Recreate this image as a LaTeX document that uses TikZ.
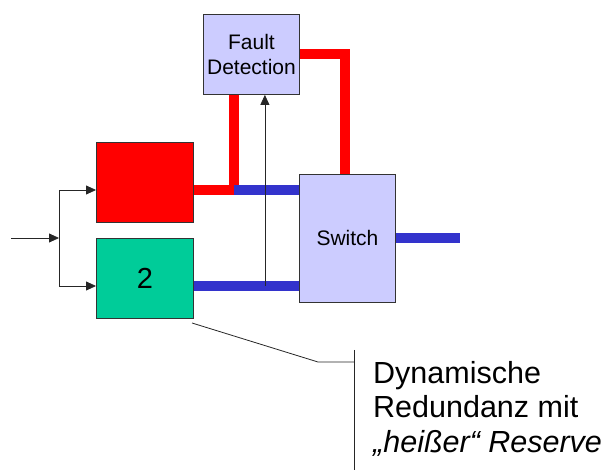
\documentclass[tikz,border=0pt]{standalone}
\usepackage{fontspec}
\setmainfont{Liberation Sans}
\usetikzlibrary{arrows.meta,calc}
\definecolor{lav}{HTML}{CCCCFF}
\definecolor{rd}{HTML}{FF0000}
\definecolor{gr}{HTML}{00CC99}
\definecolor{bl}{HTML}{3333CC}
\begin{document}
\begin{tikzpicture}[x=1pt,y=-1pt,
  box/.style={draw=black!80, line width=0.9pt, inner sep=0pt, anchor=north west, align=center},
  redw/.style={draw=rd, line width=10pt},
  bluew/.style={draw=bl, line width=10pt},
  thin/.style={draw=black!85, line width=0.8pt},
  arr/.style={thin, -{Triangle[length=10pt,width=9pt]}}]
\useasboundingbox (0,0) rectangle (616,470);
% nodes
\node[box, fill=lav, minimum width=96pt, minimum height=80pt, font=\fontsize{21}{25}\selectfont] (fd) at (203,14) {Fault\\Detection};
\node[box, fill=rd, minimum width=97pt, minimum height=80pt] (red) at (96,142) {};
\node[box, fill=gr, minimum width=97pt, minimum height=80pt, font=\fontsize{29}{32}\selectfont] (green) at (96,238) {2};
\node[box, fill=lav, minimum width=96pt, minimum height=128pt, font=\fontsize{21}{25}\selectfont] (sw) at (299,174) {Switch};
% thick connectors
\draw[redw, line join=miter] ($(red.north east)+(0,48)$) -- ++(40,0) coordinate (rc) -- (rc |- fd.south);
\draw[bluew] (rc) -- (rc -| sw.west);
\draw[bluew] ($(green.north east)+(0,48)$) coordinate (gc) -- (gc -| sw.west);
\draw[redw, line join=miter] ($(fd.north east)+(0,40.5)$) -- ++(45.5,0) coordinate (fc) -- (fc |- sw.north);
\draw[bluew] (sw.east) -- ++(64,0) coordinate (out);
% thin arrows
\coordinate (in) at (11,238);
\coordinate (br) at (59,238);
\draw[arr] (in) -- (br);
\draw[arr] (br) |- ($(red.north west)+(0,48)$);
\draw[arr] (br) |- ($(green.north west)+(0,48)$);
\draw[arr] ($(gc)+(71,0)$) coordinate (tc) -- (tc |- fd.south);
% annotation
\coordinate (l1) at (192,323);
\coordinate (l2) at (318,362);
\coordinate (l3) at (354,362);
\coordinate (v1) at (354,350);
\coordinate (v2) at (354,470);
\draw[thin] (l1) -- (l2) -- (l3);
\draw[thin] (v1) -- (v2);
\node[anchor=north west, inner sep=0pt, align=left, font=\fontsize{30.5}{34.5}\selectfont] (note) at (373,361)
  {Dynamische\\Redundanz mit\\\textit{„heißer“ Reserve}};
\end{tikzpicture}
\end{document}
